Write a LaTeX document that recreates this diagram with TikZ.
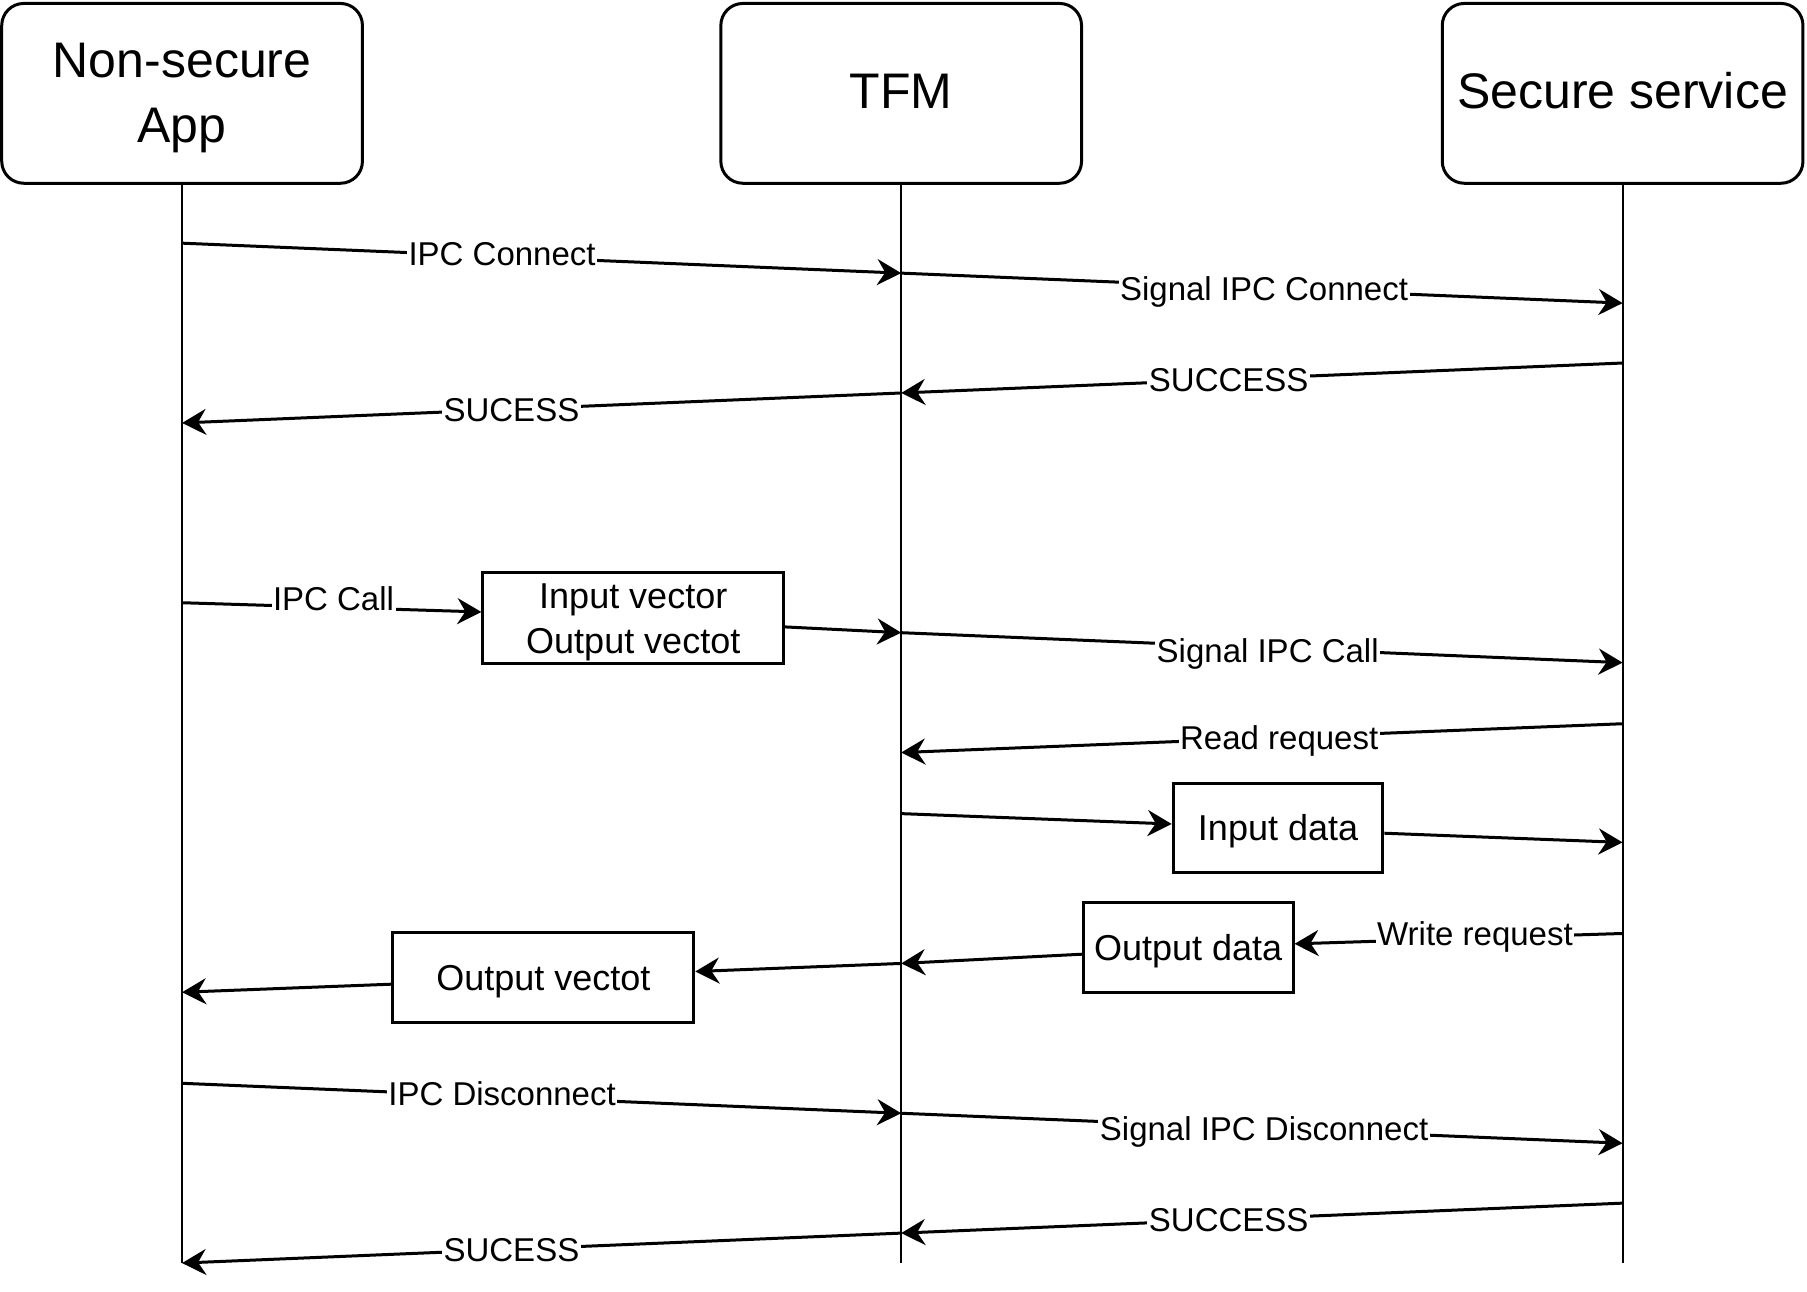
\documentclass[tikz,border=0pt]{standalone}
\usepackage{fontspec}
\setmainfont{Liberation Sans}
\usetikzlibrary{arrows.meta}
\begin{document}
\begin{tikzpicture}[x=1.1524pt,y=-1.1524pt,
  actor/.style={draw, line width=3pt, rounded corners=22pt, minimum width=360.7pt, minimum height=179.8pt, align=center, font=\fontsize{50}{65}\selectfont, inner sep=0pt, text height=35.8pt, text depth=6pt},
  databox/.style={draw, line width=3pt, align=center, font=\fontsize{36}{45}\selectfont, inner sep=0pt, text height=25.8pt, text depth=0pt},
  life/.style={line width=2pt},
  msg/.style={line width=3pt, -{Stealth[length=24pt,width=26pt,inset=8pt]}},
  lbl/.style={fill=white, inner sep=1.5pt, font=\fontsize{33}{38}\selectfont, text height=23.7pt, text depth=0pt},
]
\useasboundingbox (0,0) rectangle (1568,1120.3);

% actors
\node[actor, text height=100.8pt, text depth=2pt] (ns) at (158,81) {Non-secure\\App};
\node[actor] (tfm) at (782,81) {TFM};
\node[actor] (ss) at (1408,81) {Secure service};

% lifelines
\coordinate (nsb) at (158,1096);
\coordinate (tfmb) at (782,1096);
\coordinate (ssb) at (1408,1096);
\draw[life, line width=2.4pt] (ns.south) -- (nsb);
\draw[life] (tfm.south) -- (tfmb);
\draw[life] (ss.south) -- (ssb);

% data boxes
\node[databox, minimum width=300.8pt, minimum height=91pt, text height=70.8pt, text depth=0pt] (iv) at (549.5,536.5) {Input vector\\Output vectot};
\node[databox, minimum width=209.7pt, minimum height=88.7pt] (id) at (1109,718.5) {Input data};
\node[databox, minimum width=209.7pt, minimum height=89.9pt] (od) at (1031,822) {Output data};
\node[databox, minimum width=300.8pt, minimum height=89.9pt] (ov) at (471.5,848) {Output vectot};

% message end points on lifelines
\coordinate (n1) at (158,211);
\coordinate (t1) at (782,237);
\coordinate (s1) at (1408,263);
\coordinate (s2) at (1408,315);
\coordinate (t2) at (782,341);
\coordinate (n2) at (158,367);
\coordinate (n3) at (158,523);
\coordinate (t3) at (782,549);
\coordinate (s3) at (1408,575);
\coordinate (s4) at (1408,628);
\coordinate (t4) at (782,653);
\coordinate (t5) at (782,706);
\coordinate (s5) at (1408,731);
\coordinate (s6) at (1408,810);
\coordinate (t6) at (782,836);
\coordinate (n6) at (158,861);
\coordinate (n7) at (158,940);
\coordinate (t7) at (782,966);
\coordinate (s7) at (1408,992);
\coordinate (s8) at (1408,1044);
\coordinate (t8) at (782,1070);
\coordinate (n8) at (158,1096);

% connect
\draw[msg] (n1) -- node[lbl,pos=0.445,yshift=3pt] {IPC Connect} (t1);
\draw[msg] (t1) -- node[lbl,pos=0.503] {Signal IPC Connect} (s1);
\draw[msg] (s2) -- node[lbl,pos=0.546] {SUCCESS} (t2);
\draw[msg] (t2) -- node[lbl,pos=0.542] {SUCESS} (n2);

% call
\draw[msg] (n3) -- node[lbl,pos=0.506,yshift=9pt] {IPC Call} (iv.west |- 0,531);
\draw[msg] (iv.east |- 0,544) -- (t3);
\draw[msg] (t3) -- node[lbl,pos=0.508,yshift=-3pt] {Signal IPC Call} (s3);
\draw[msg] (s4) -- node[lbl,pos=0.476] {Read request} (t4);
\draw[msg] (t5) -- (id.west |- 0,715);
\draw[msg] (id.east |- 0,723) -- (s5);
\draw[msg] (s6) -- node[lbl,pos=0.45,yshift=4pt] {Write request} (od.east |- 0,819);
\draw[msg] (od.west |- 0,828) -- (t6);
\draw[msg] (t6) -- (ov.east |- 0,843);
\draw[msg] (ov.west |- 0,854) -- (n6);

% disconnect
\draw[msg] (n7) -- node[lbl,pos=0.445,yshift=3pt] {IPC Disconnect} (t7);
\draw[msg] (t7) -- node[lbl,pos=0.503] {Signal IPC Disconnect} (s7);
\draw[msg] (s8) -- node[lbl,pos=0.546] {SUCCESS} (t8);
\draw[msg] (t8) -- node[lbl,pos=0.542] {SUCESS} (n8);
\end{tikzpicture}
\end{document}
